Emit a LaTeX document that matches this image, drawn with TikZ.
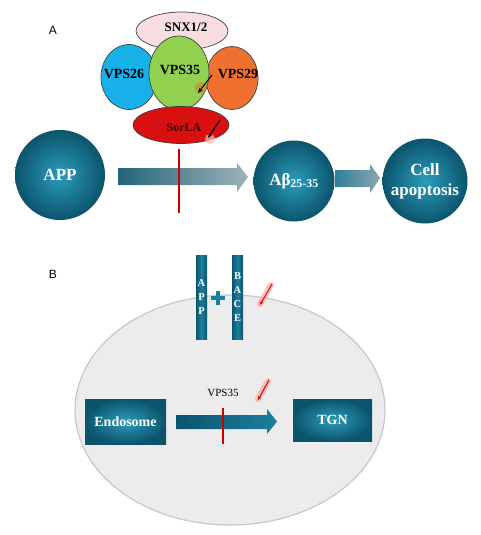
\documentclass[tikz,border=0pt]{standalone}
\usepackage{fontspec}
\setmainfont{Liberation Serif}
\setsansfont{Liberation Sans}
\usetikzlibrary{shapes.geometric}
\usetikzlibrary{arrows.meta}

\definecolor{tealmain}{RGB}{26,128,158}
\definecolor{tealdark}{RGB}{12,84,108}
\definecolor{teallight}{RGB}{44,156,188}
\definecolor{snxpink}{RGB}{248,222,222}
\definecolor{vpsblue}{RGB}{24,176,232}
\definecolor{vpsgreen}{RGB}{146,208,80}
\definecolor{vpsorange}{RGB}{240,112,48}
\definecolor{sorlared}{RGB}{216,16,16}
\definecolor{cellgray}{RGB}{236,236,236}

\tikzstyle{subunit} = [ellipse, draw=black!75, line width=0.7pt, inner sep=0pt]
\tikzstyle{subtext} = [font=\bfseries\fontsize{14}{14}\selectfont, inner sep=0pt]
\tikzstyle{ballnode} = [circle, inner sep=0pt, inner color=teallight, outer color=tealdark,
    text=white, align=center, font=\bfseries\fontsize{17}{20}\selectfont]
\tikzstyle{boxnode} = [rectangle, inner sep=0pt, inner color=teallight, outer color=tealdark,
    text=white, font=\bfseries\fontsize{14}{14}\selectfont]
\tikzstyle{barnode} = [rectangle, inner sep=0pt, minimum width=11pt, minimum height=84pt,
    left color=tealdark, right color=tealdark, middle color=tealmain,
    text=white, align=center, font=\bfseries\fontsize{10.5}{14}\selectfont]
\tikzstyle{redmark} = [draw=red!80!black, line width=1.5pt]
\tikzstyle{glow} = [line width=6pt, line cap=round, red!40, opacity=0.6]

\begin{document}
\begin{tikzpicture}[x=1pt,y=-1pt]
\useasboundingbox (0,0) rectangle (480,535);

% part A
\node[font=\sffamily\fontsize{12}{12}\selectfont] (lblA) at (53,30) {A};

\node[subunit, fill=snxpink, minimum width=92pt, minimum height=38pt] (snx) at (182,31) {};
\node[subunit, fill=vpsblue, minimum width=56pt, minimum height=65pt] (vps26) at (129,77) {};
\node[subunit, fill=vpsorange, minimum width=52pt, minimum height=63pt] (vps29) at (232,78) {};
\node[subunit, fill=vpsgreen, minimum width=60pt, minimum height=74pt] (vps35) at (179,73) {};
\node[subunit, fill=sorlared, minimum width=96pt, minimum height=37pt] (sorla) at (181,125) {};

\node[subtext, font=\bfseries\fontsize{13}{13}\selectfont] (snxlbl) at (186,27) {SNX1/2};
\node[subtext] (vps26lbl) at (124,74) {VPS26};
\node[subtext] (vps35lbl) at (180,70) {VPS35};
\node[subtext] (vps29lbl) at (238,74) {VPS29};
\node[subtext, font=\bfseries\fontsize{12}{12}\selectfont, text=black!75!red] (sorlalbl) at (184,128) {SorLA};

\fill[brown!70!orange, opacity=0.55] (201,88) circle (6);
\draw[-{Stealth[length=5pt]}, line width=1pt] (212,75) -- (198,93);
\fill[pink, opacity=0.7] (210,139) circle (5);
\draw[-{Stealth[length=5pt]}, line width=1pt] (220,120) -- (208,138);

\node[ballnode, minimum size=90pt] (app) at (60,175) {APP};
\node[ballnode, minimum size=81pt] (abeta) at (294,181) {Aβ\textsubscript{25-35}};
\node[ballnode, minimum size=85pt] (apop) at (425,181) {Cell\\apoptosis};

\shade[left color=tealdark!90, right color=tealmain!35!gray!60] (118,168) -- (237,168) -- (237,163)
    -- (248,177) -- (237,192) -- (237,185) -- (118,185) -- cycle;
\shade[left color=tealmain!80!gray, right color=tealmain!35!gray!70] (335,170) -- (370,170) -- (370,164)
    -- (380,178) -- (370,193) -- (370,187) -- (335,187) -- cycle;

\coordinate (blockA) at (179,213);
\draw[redmark] (179,149) -- (blockA);

% part B
\node[font=\sffamily\fontsize{12}{12}\selectfont] (lblB) at (53,274) {B};

\node[ellipse, draw=black!22, line width=1.2pt, fill=cellgray,
    minimum width=310pt, minimum height=230pt] (cell) at (230,410) {};

\node[barnode] (appbar) at (201.5,297) {A\\P\\P};
\node[barnode] (bacebar) at (237.5,297) {B\\A\\C\\E};
\draw[tealmain, line width=4.5pt] (211,298) -- (225,298) (218,291) -- (218,305);

\draw[glow] (271,285) -- (260,304);
\draw[red!85!black, line width=1pt, -{Stealth[length=4pt]}] (272,284) -- (260,305);
\draw[glow] (268,381) -- (258,399);
\draw[red!85!black, line width=1pt, -{Stealth[length=4pt]}] (269,380) -- (258,400);

\node[boxnode, minimum width=81pt, minimum height=45pt] (endo) at (125.5,421.5) {Endosome};
\node[boxnode, minimum width=79pt, minimum height=42pt] (tgn) at (332.5,420) {TGN};
\node[font=\fontsize{11}{11}\selectfont] (vpsB) at (223,393) {VPS35};

\shade[left color=tealdark, right color=tealmain] (176,415) -- (267,415) -- (267,409)
    -- (277,421.5) -- (267,434) -- (267,429) -- (176,429) -- cycle;

\coordinate (blockB) at (223,444);
\draw[redmark] (223,408) -- (blockB);

\end{tikzpicture}
\end{document}
